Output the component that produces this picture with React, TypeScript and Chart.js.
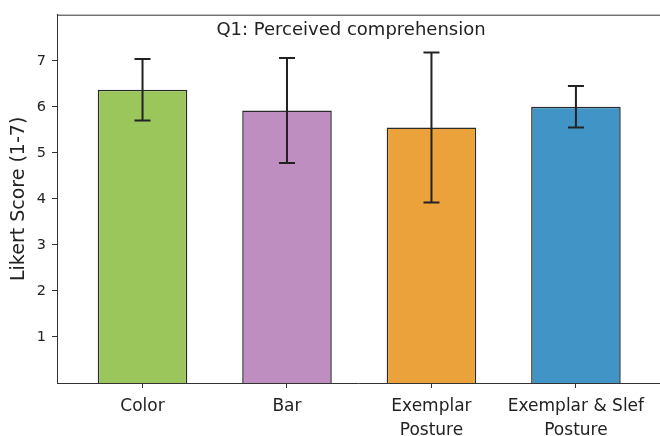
import React, { useEffect, useRef } from "react";
import { Chart, registerables } from "chart.js";

Chart.register(...registerables);

const categories: (string | string[])[] = ["Color", "Bar", ["Exemplar", "Posture"], ["Exemplar & Slef", "Posture"]];
const means = [6.37, 5.92, 5.55, 6.0];
const errors = [0.67, 1.14, 1.63, 0.45];
const yTicks = [1, 2, 3, 4, 5, 6, 7];
const barColors = ["#9bc65c", "#bd8ebf", "#eba23b", "#4094c6"];
const titleText = "Q1: Perceived comprehension";
const yLabel = "Likert Score (1-7)";

const FONT = "'DejaVu Sans', sans-serif";

const extras = {
  id: "extras",
  afterDatasetsDraw(chart: any) {
    const { ctx, chartArea, scales } = chart;
    const xs = scales.x;
    const ys = scales.y;
    ctx.save();
    ctx.strokeStyle = "#222";
    ctx.lineWidth = 2;
    means.forEach((m, i) => {
      const x = xs.getPixelForValue(i);
      const t = ys.getPixelForValue(m + errors[i]);
      const b = ys.getPixelForValue(m - errors[i]);
      ctx.beginPath();
      ctx.moveTo(x, t);
      ctx.lineTo(x, b);
      ctx.moveTo(x - 8, t);
      ctx.lineTo(x + 8, t);
      ctx.moveTo(x - 8, b);
      ctx.lineTo(x + 8, b);
      ctx.stroke();
    });
    // top spine
    ctx.strokeStyle = "#333";
    ctx.lineWidth = 1;
    ctx.beginPath();
    ctx.moveTo(chartArea.left, chartArea.top + 0.5);
    ctx.lineTo(chartArea.right + 5, chartArea.top + 0.5);
    ctx.stroke();
    // title inside plot
    ctx.fillStyle = "#222";
    ctx.font = `18px ${FONT}`;
    ctx.textAlign = "center";
    ctx.textBaseline = "middle";
    ctx.fillText(titleText, (chartArea.left + chartArea.right) / 2 - 7, chartArea.top + 16);
    ctx.restore();
  },
};

export default function App() {
  const ref = useRef<HTMLCanvasElement>(null);
  useEffect(() => {
    if (!ref.current) return;
    const chart = new Chart(ref.current, {
      type: "bar",
      data: {
        datasets: [
          {
            data: means.map((y, i) => ({ x: i, y })) as any,
            backgroundColor: barColors,
            borderColor: "#2a2a2a",
            borderWidth: 1.5,
            categoryPercentage: 1,
            barPercentage: 0.62,
          },
        ],
      },
      options: {
        animation: false,
        responsive: true,
        maintainAspectRatio: false,
        layout: { padding: { top: 14, left: 0, right: 1, bottom: 0 } },
        plugins: { legend: { display: false }, tooltip: { enabled: false }, title: { display: false } },
        scales: {
          x: {
            type: "linear",
            offset: false,
            min: -0.592,
            max: 3.575,
            afterBuildTicks: (s: any) => {
              s.ticks = categories.map((_, i) => ({ value: i }));
            },
            afterFit: (s: any) => {
              s.height = 53;
            },
            ticks: {
              autoSkip: false,
              maxRotation: 0,
              padding: 7,
              color: "#222",
              font: { family: FONT, size: 17, lineHeight: 1.4 },
              callback: (v: any) => categories[v as number] as any,
            },
            grid: { offset: false, drawOnChartArea: false, drawTicks: true, tickLength: 5, tickColor: "#333" },
            border: { display: true, color: "#333", width: 1 },
          },
          y: {
            min: 0,
            max: 8,
            afterBuildTicks: (s: any) => {
              s.ticks = yTicks.map((v) => ({ value: v }));
            },
            afterFit: (s: any) => {
              s.width = 57;
            },
            ticks: { padding: 6, color: "#222", font: { family: FONT, size: 14.5 } },
            grid: { drawOnChartArea: false, drawTicks: true, tickLength: 5, tickColor: "#333" },
            border: { display: true, color: "#333", width: 1 },
            title: {
              display: true,
              text: yLabel,
              color: "#222",
              font: { family: FONT, size: 19 },
              padding: { top: 8, bottom: 0 },
            },
          },
        },
      },
      plugins: [extras],
    });
    return () => chart.destroy();
  }, []);
  return (
    <div style={{ position: "fixed", left: 0, top: 0, width: 660, height: 436, background: "#fff" }}>
      <canvas ref={ref} />
    </div>
  );
}
